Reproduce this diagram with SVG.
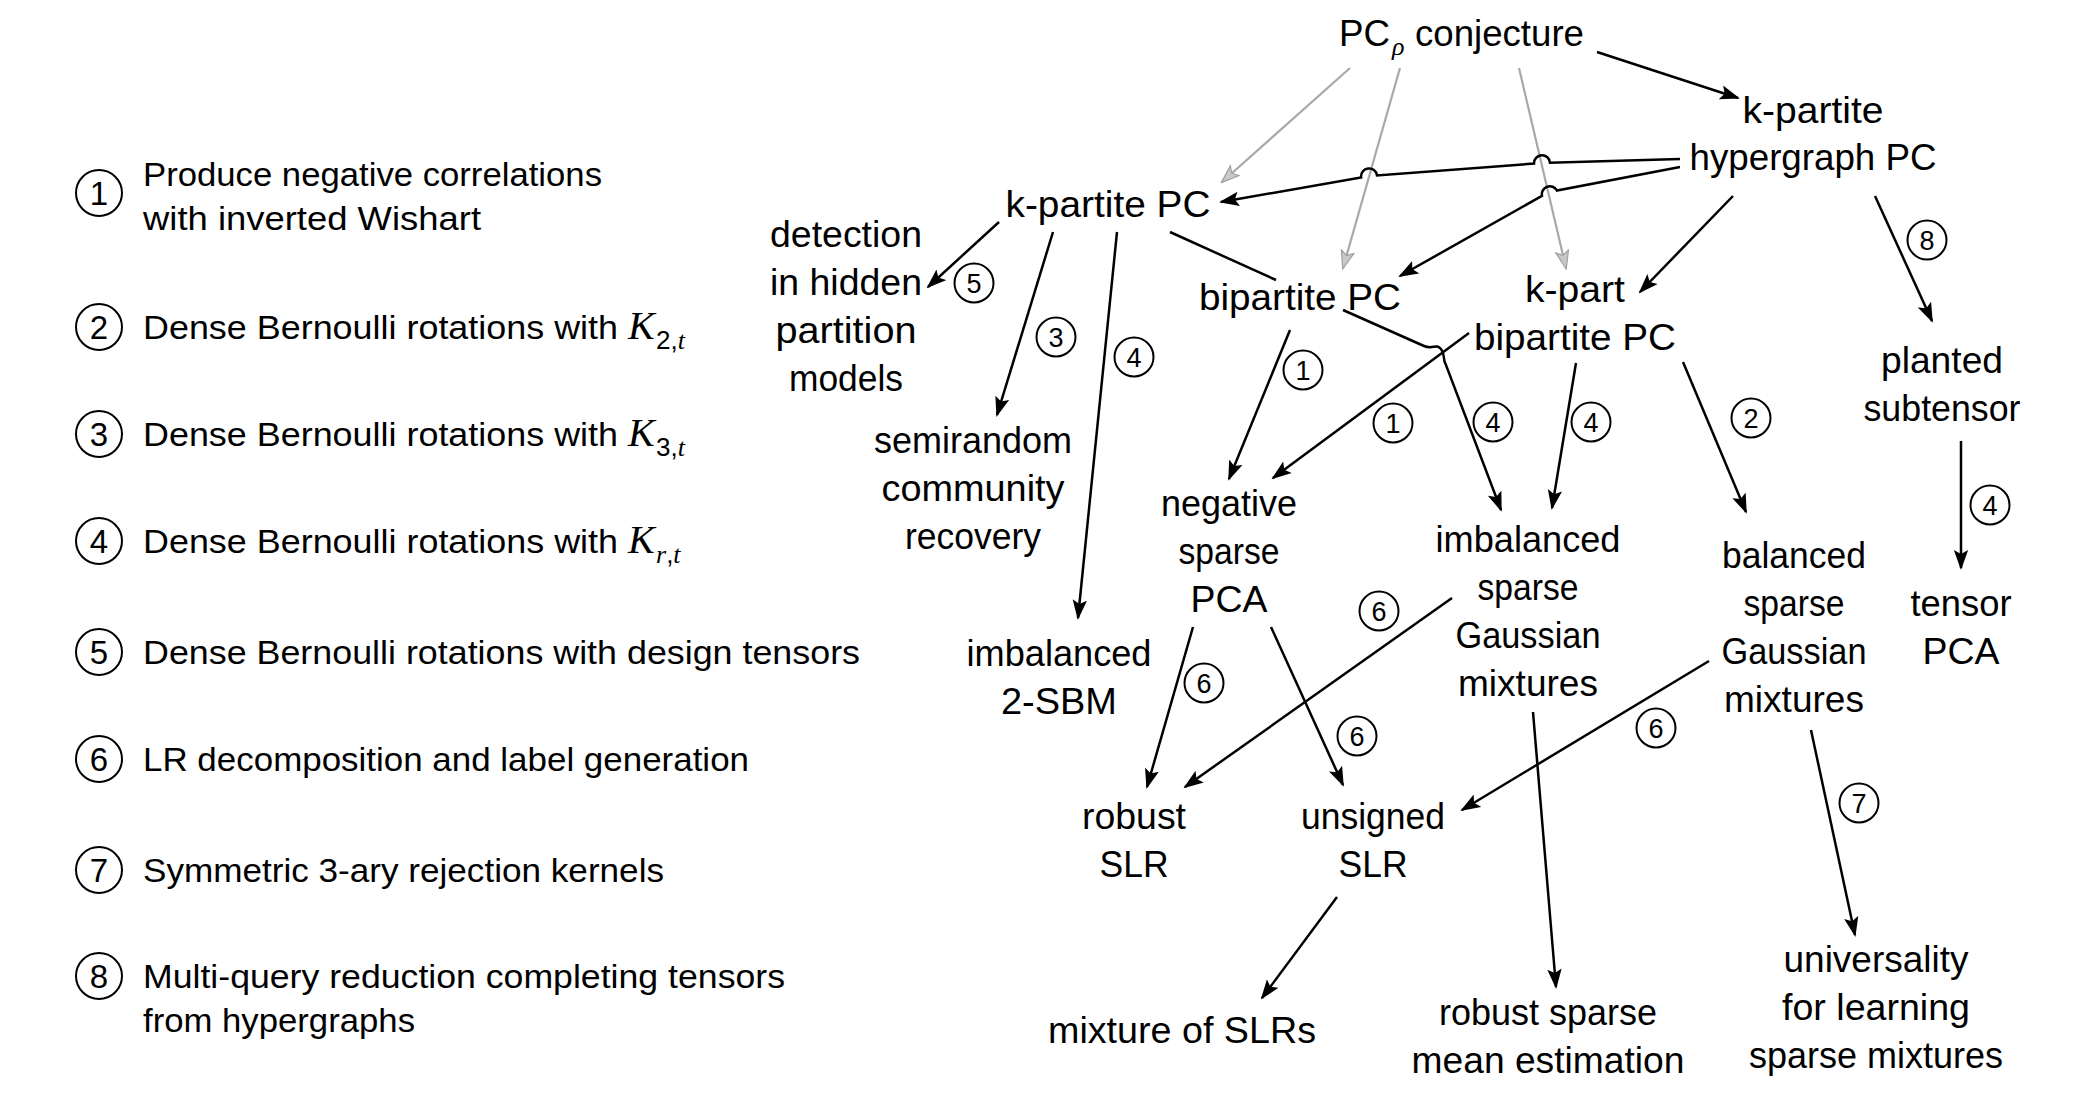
<svg xmlns="http://www.w3.org/2000/svg" width="2096" height="1104" viewBox="0 0 2096 1104">
<style>
text { font-family: "Liberation Sans", Arial, sans-serif; fill: #000; }
.n { font-size: 36px; text-anchor: middle; }
.lg { font-size: 34px; }
.e { fill: none; stroke: #000; stroke-width: 2.5; marker-end: url(#ah); }
.p { fill: none; stroke: #000; stroke-width: 2.5; }
.g { fill: none; stroke: #a8a8a8; stroke-width: 2.2; marker-end: url(#ahg); }
.c { fill: #fff; stroke: #000; stroke-width: 2; }
.cn { font-size: 27px; text-anchor: middle; }
.ln { font-size: 33px; text-anchor: middle; }
.mi { font-family: "Liberation Serif", "Times New Roman", serif; font-style: italic; }
</style>
<defs>
<marker id="ah" markerUnits="userSpaceOnUse" viewBox="0 0 20 16" refX="18" refY="8" markerWidth="20" markerHeight="16" orient="auto">
<path d="M20,8 L0,0.8 L4,8 L0,15.2 Z" fill="#000"/>
</marker>
<marker id="ahg" markerUnits="userSpaceOnUse" viewBox="0 0 20 16" refX="18" refY="8" markerWidth="20" markerHeight="16" orient="auto">
<path d="M19,8 L1,1.5 L5,8 L1,14.5 Z" fill="#c8c8c8" stroke="#a0a0a0" stroke-width="1.2"/>
</marker>
</defs>
<rect width="2096" height="1104" fill="#fff"/>

<g id="legend">
<g id="legend-1"><circle class="c" cx="99" cy="193" r="23"/><text class="ln" x="99" y="205">1</text>
<text class="lg" x="143" y="186" textLength="459" lengthAdjust="spacingAndGlyphs">Produce negative correlations</text>
<text class="lg" x="143" y="230" textLength="338" lengthAdjust="spacingAndGlyphs">with inverted Wishart</text></g>
<g id="legend-2"><circle class="c" cx="99" cy="327" r="23"/><text class="ln" x="99" y="339">2</text>
<text class="lg" x="143" y="339" textLength="475" lengthAdjust="spacingAndGlyphs">Dense Bernoulli rotations with</text>
<text class="mi" x="628" y="339" font-size="40">K</text><text x="656" y="349" font-size="26">2,<tspan class="mi">t</tspan></text></g>
<g id="legend-3"><circle class="c" cx="99" cy="434" r="23"/><text class="ln" x="99" y="446">3</text>
<text class="lg" x="143" y="446" textLength="475" lengthAdjust="spacingAndGlyphs">Dense Bernoulli rotations with</text>
<text class="mi" x="628" y="446" font-size="40">K</text><text x="656" y="456" font-size="26">3,<tspan class="mi">t</tspan></text></g>
<g id="legend-4"><circle class="c" cx="99" cy="541" r="23"/><text class="ln" x="99" y="553">4</text>
<text class="lg" x="143" y="553" textLength="475" lengthAdjust="spacingAndGlyphs">Dense Bernoulli rotations with</text>
<text class="mi" x="628" y="553" font-size="40">K</text><text x="656" y="563" font-size="26"><tspan class="mi">r</tspan>,<tspan class="mi">t</tspan></text></g>
<g id="legend-5"><circle class="c" cx="99" cy="652" r="23"/><text class="ln" x="99" y="664">5</text>
<text class="lg" x="143" y="664" textLength="717" lengthAdjust="spacingAndGlyphs">Dense Bernoulli rotations with design tensors</text></g>
<g id="legend-6"><circle class="c" cx="99" cy="759" r="23"/><text class="ln" x="99" y="771">6</text>
<text class="lg" x="143" y="771" textLength="606" lengthAdjust="spacingAndGlyphs">LR decomposition and label generation</text></g>
<g id="legend-7"><circle class="c" cx="99" cy="870" r="23"/><text class="ln" x="99" y="882">7</text>
<text class="lg" x="143" y="882" textLength="521" lengthAdjust="spacingAndGlyphs">Symmetric 3-ary rejection kernels</text></g>
<g id="legend-8"><circle class="c" cx="99" cy="976" r="23"/><text class="ln" x="99" y="988">8</text>
<text class="lg" x="143" y="988" textLength="642" lengthAdjust="spacingAndGlyphs">Multi-query reduction completing tensors</text>
<text class="lg" x="143" y="1032" textLength="272" lengthAdjust="spacingAndGlyphs">from hypergraphs</text></g>
</g>

<g id="connectors">
<path class="g" d="M1350,68 L1222,182"/>
<path class="g" d="M1400,68 L1343,268"/>
<path class="g" d="M1519,68 L1566,268"/>
<path class="e" d="M1597,52 L1738,98"/>
<path class="e" d="M1680,159 L1550,162.8 A8,8 0 0 0 1534,163.6 L1377,175.4 A8,8 0 0 0 1361.1,177.4 L1221,202"/>
<path class="e" d="M1680,167 L1556.9,190.5 A8,8 0 0 0 1542,195.9 L1400,276"/>
<path class="e" d="M1733,196 L1640,292"/>
<path class="e" d="M1875,196 L1932,321"/>
<path class="e" d="M999,222 L928,287"/>
<path class="e" d="M1053,232 L997,415"/>
<path class="e" d="M1117,232 L1078,618"/>
<path class="p" d="M1170,232 L1276,280"/>
<path class="e" d="M1343,310 L1424,346 C1433,350 1436,343 1441,349 C1446,355 1442,359 1446,365 L1501,510"/>
<path class="e" d="M1290,330 L1229,479"/>
<path class="e" d="M1469,333 L1273,478"/>
<path class="e" d="M1576,363 L1552,508"/>
<path class="e" d="M1683,362 L1746,512"/>
<path class="e" d="M1961,441 L1961,568"/>
<path class="e" d="M1193,627 L1147,787"/>
<path class="e" d="M1271,627 L1343,785"/>
<path class="e" d="M1452,598 L1185,787"/>
<path class="e" d="M1533,712 L1556,987"/>
<path class="e" d="M1709,661 L1462,810"/>
<path class="e" d="M1811,730 L1855,935"/>
<path class="e" d="M1337,897 L1262,998"/>
<g id="edge-labels">
<circle class="c" cx="1927" cy="240" r="19.5"/><text class="cn" x="1927" y="250">8</text>
<circle class="c" cx="974" cy="283" r="19.5"/><text class="cn" x="974" y="293">5</text>
<circle class="c" cx="1056" cy="337" r="19.5"/><text class="cn" x="1056" y="347">3</text>
<circle class="c" cx="1134" cy="357" r="19.5"/><text class="cn" x="1134" y="367">4</text>
<circle class="c" cx="1303" cy="370" r="19.5"/><text class="cn" x="1303" y="380">1</text>
<circle class="c" cx="1393" cy="423" r="19.5"/><text class="cn" x="1393" y="433">1</text>
<circle class="c" cx="1493" cy="422" r="19.5"/><text class="cn" x="1493" y="432">4</text>
<circle class="c" cx="1591" cy="422" r="19.5"/><text class="cn" x="1591" y="432">4</text>
<circle class="c" cx="1751" cy="418" r="19.5"/><text class="cn" x="1751" y="428">2</text>
<circle class="c" cx="1990" cy="505" r="19.5"/><text class="cn" x="1990" y="515">4</text>
<circle class="c" cx="1379" cy="611" r="19.5"/><text class="cn" x="1379" y="621">6</text>
<circle class="c" cx="1204" cy="683" r="19.5"/><text class="cn" x="1204" y="693">6</text>
<circle class="c" cx="1357" cy="736" r="19.5"/><text class="cn" x="1357" y="746">6</text>
<circle class="c" cx="1656" cy="728" r="19.5"/><text class="cn" x="1656" y="738">6</text>
<circle class="c" cx="1859" cy="803" r="19.5"/><text class="cn" x="1859" y="813">7</text>
</g>
</g>

<g id="n-pcrho">
<text x="1339" y="46" font-size="36" textLength="51" lengthAdjust="spacingAndGlyphs">PC</text>
<text class="mi" x="1392" y="55" font-size="26">ρ</text>
<text x="1415" y="46" font-size="36" textLength="169" lengthAdjust="spacingAndGlyphs">conjecture</text>
</g>
<g id="n-hyper">
<text class="n" x="1813" y="123" textLength="141" lengthAdjust="spacingAndGlyphs">k-partite</text>
<text class="n" x="1813" y="170" textLength="247" lengthAdjust="spacingAndGlyphs">hypergraph PC</text>
</g>
<g id="n-kpc"><text class="n" x="1108" y="217" textLength="205" lengthAdjust="spacingAndGlyphs">k-partite PC</text></g>
<g id="n-detect">
<text class="n" x="846" y="247" textLength="152" lengthAdjust="spacingAndGlyphs">detection</text>
<text class="n" x="846" y="295" textLength="152" lengthAdjust="spacingAndGlyphs">in hidden</text>
<text class="n" x="846" y="343" textLength="141" lengthAdjust="spacingAndGlyphs">partition</text>
<text class="n" x="846" y="391" textLength="114" lengthAdjust="spacingAndGlyphs">models</text>
</g>
<g id="n-bipc"><text class="n" x="1300" y="310" textLength="202" lengthAdjust="spacingAndGlyphs">bipartite PC</text></g>
<g id="n-kbipc">
<text class="n" x="1575" y="302" textLength="100" lengthAdjust="spacingAndGlyphs">k-part</text>
<text class="n" x="1575" y="350" textLength="202" lengthAdjust="spacingAndGlyphs">bipartite PC</text>
</g>
<g id="n-planted">
<text class="n" x="1942" y="373" textLength="122" lengthAdjust="spacingAndGlyphs">planted</text>
<text class="n" x="1942" y="421" textLength="157" lengthAdjust="spacingAndGlyphs">subtensor</text>
</g>
<g id="n-semi">
<text class="n" x="973" y="453" textLength="198" lengthAdjust="spacingAndGlyphs">semirandom</text>
<text class="n" x="973" y="501" textLength="183" lengthAdjust="spacingAndGlyphs">community</text>
<text class="n" x="973" y="549" textLength="136" lengthAdjust="spacingAndGlyphs">recovery</text>
</g>
<g id="n-sbm">
<text class="n" x="1059" y="666" textLength="185" lengthAdjust="spacingAndGlyphs">imbalanced</text>
<text class="n" x="1059" y="714" textLength="116" lengthAdjust="spacingAndGlyphs">2-SBM</text>
</g>
<g id="n-negpca">
<text class="n" x="1229" y="516" textLength="136" lengthAdjust="spacingAndGlyphs">negative</text>
<text class="n" x="1229" y="564" textLength="101" lengthAdjust="spacingAndGlyphs">sparse</text>
<text class="n" x="1229" y="612" textLength="77" lengthAdjust="spacingAndGlyphs">PCA</text>
</g>
<g id="n-imbsgm">
<text class="n" x="1528" y="552" textLength="185" lengthAdjust="spacingAndGlyphs">imbalanced</text>
<text class="n" x="1528" y="600" textLength="101" lengthAdjust="spacingAndGlyphs">sparse</text>
<text class="n" x="1528" y="648" textLength="145" lengthAdjust="spacingAndGlyphs">Gaussian</text>
<text class="n" x="1528" y="696" textLength="140" lengthAdjust="spacingAndGlyphs">mixtures</text>
</g>
<g id="n-balsgm">
<text class="n" x="1794" y="568" textLength="144" lengthAdjust="spacingAndGlyphs">balanced</text>
<text class="n" x="1794" y="616" textLength="101" lengthAdjust="spacingAndGlyphs">sparse</text>
<text class="n" x="1794" y="664" textLength="145" lengthAdjust="spacingAndGlyphs">Gaussian</text>
<text class="n" x="1794" y="712" textLength="140" lengthAdjust="spacingAndGlyphs">mixtures</text>
</g>
<g id="n-tpca">
<text class="n" x="1961" y="616" textLength="101" lengthAdjust="spacingAndGlyphs">tensor</text>
<text class="n" x="1961" y="664" textLength="77" lengthAdjust="spacingAndGlyphs">PCA</text>
</g>
<g id="n-rslr">
<text class="n" x="1134" y="829" textLength="104" lengthAdjust="spacingAndGlyphs">robust</text>
<text class="n" x="1134" y="877" textLength="69" lengthAdjust="spacingAndGlyphs">SLR</text>
</g>
<g id="n-uslr">
<text class="n" x="1373" y="829" textLength="144" lengthAdjust="spacingAndGlyphs">unsigned</text>
<text class="n" x="1373" y="877" textLength="69" lengthAdjust="spacingAndGlyphs">SLR</text>
</g>
<g id="n-mix"><text class="n" x="1182" y="1043" textLength="268" lengthAdjust="spacingAndGlyphs">mixture of SLRs</text></g>
<g id="n-rsme">
<text class="n" x="1548" y="1025" textLength="218" lengthAdjust="spacingAndGlyphs">robust sparse</text>
<text class="n" x="1548" y="1073" textLength="273" lengthAdjust="spacingAndGlyphs">mean estimation</text>
</g>
<g id="n-univ">
<text class="n" x="1876" y="972" textLength="185" lengthAdjust="spacingAndGlyphs">universality</text>
<text class="n" x="1876" y="1020" textLength="188" lengthAdjust="spacingAndGlyphs">for learning</text>
<text class="n" x="1876" y="1068" textLength="254" lengthAdjust="spacingAndGlyphs">sparse mixtures</text>
</g>
</svg>
